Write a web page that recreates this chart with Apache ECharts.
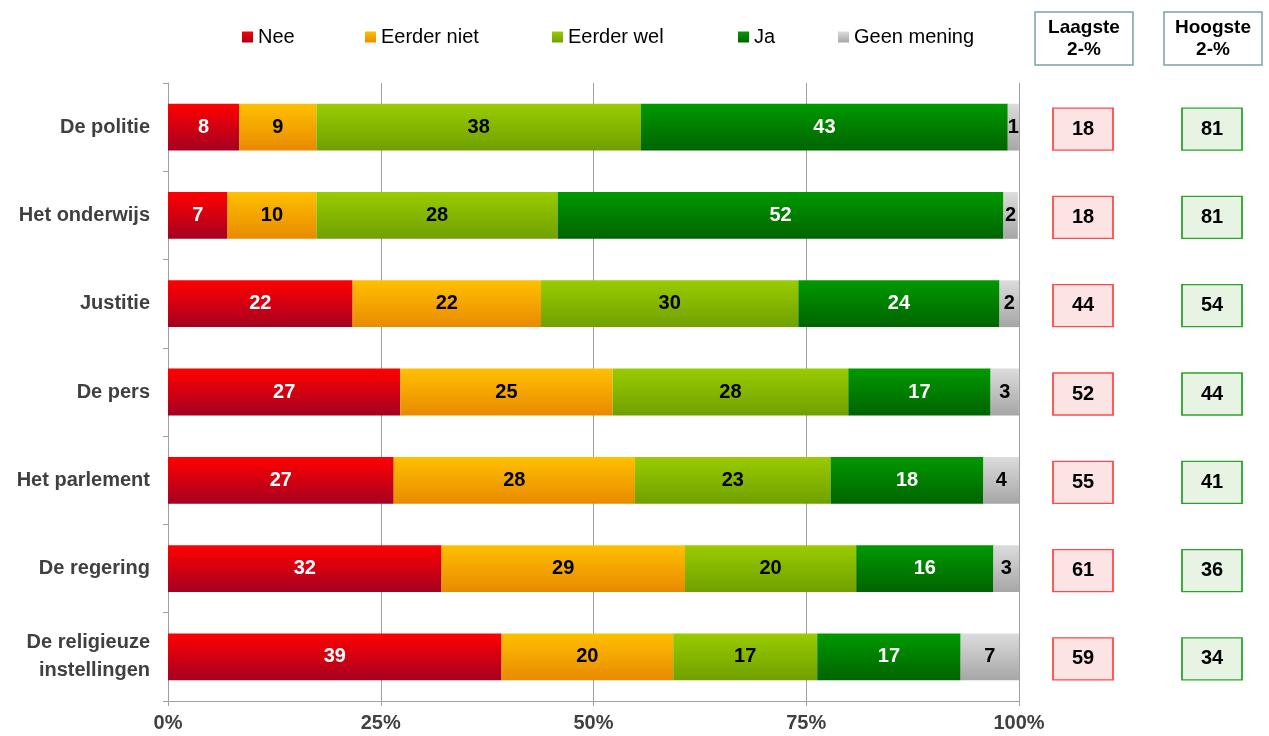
<!DOCTYPE html>
<html>
<head>
<meta charset="utf-8">
<script src="https://cdn.jsdelivr.net/npm/echarts@6/dist/echarts.min.js"></script>
<style>html,body{margin:0;padding:0;background:#fff}#c{width:1269px;height:736px}</style>
</head>
<body>
<div id="c"></div>
<script>
const categories = ['De politie', 'Het onderwijs', 'Justitie', 'De pers', 'Het parlement', 'De regering', 'De religieuze\ninstellingen'];
const seriesNames = ['Nee', 'Eerder niet', 'Eerder wel', 'Ja', 'Geen mening'];
const nee        = [8.36, 6.99, 21.69, 27.30, 26.52, 32.14, 39.19];
const eerderNiet = [9.08, 10.45, 22.14, 24.95, 28.35, 28.61, 20.18];
const eerderWel  = [38.14, 28.35, 30.24, 27.69, 22.99, 20.12, 16.92];
const ja         = [43.10, 52.38, 23.64, 16.72, 17.96, 16.13, 16.85];
const geenMening = [1.31, 1.70, 2.29, 3.33, 4.18, 3.00, 6.86];
const laagste = [18, 18, 44, 52, 55, 61, 59];
const hoogste = [81, 81, 54, 44, 41, 36, 34];
const xTicks = [0, 25, 50, 75, 100];
const boxHeaders = ['Laagste\n2-%', 'Hoogste\n2-%'];

const FONT = "'Liberation Sans', Arial, sans-serif";
function grad(top, bottom) {
  return new echarts.graphic.LinearGradient(0, 0, 0, 1, [{offset: 0, color: top}, {offset: 1, color: bottom}]);
}
const colors = [
  grad('#ff0000', '#a50021'),
  grad('#ffc000', '#e88a00'),
  grad('#99cc00', '#70a000'),
  grad('#009900', '#006400'),
  grad('#dcdcdc', '#a6a6a6')
];
const labelColors = ['#ffffff', '#000000', '#000000', '#ffffff', '#000000'];
const allData = [nee, eerderNiet, eerderWel, ja, geenMening];

const series = seriesNames.map((name, i) => ({
  name: name,
  type: 'bar',
  stack: 'total',
  xAxisIndex: 0,
  yAxisIndex: 0,
  barWidth: '53%',
  data: allData[i],
  itemStyle: {color: colors[i]},
  label: {
    show: true,
    position: 'inside',
    color: labelColors[i],
    fontFamily: FONT,
    fontWeight: 'bold',
    fontSize: 20,
    formatter: p => Math.round(p.value)
  },
  emphasis: {disabled: true}
}));

function boxSeries(name, values, xi, fill, border) {
  return {
    name: name,
    type: 'scatter',
    xAxisIndex: 1,
    yAxisIndex: 1,
    symbol: 'rect',
    symbolSize: [60, 42],
    symbolOffset: [0, 2],
    data: values.map((v, i) => [xi, i, v]),
    itemStyle: {color: fill, borderColor: border, borderWidth: 1.5, opacity: 1},
    label: {show: true, position: 'inside', formatter: p => p.value[2], color: '#000', fontFamily: FONT, fontWeight: 'bold', fontSize: 20},
    emphasis: {disabled: true}
  };
}
series.push(boxSeries('Laagste', laagste, 0, '#fde4e4', '#ff4a4a'));
series.push(boxSeries('Hoogste', hoogste, 1, '#e7f4e4', '#2aa52a'));

const legendLefts = [237, 360, 547, 733, 833];
const legends = seriesNames.map((n, i) => ({
  data: [n],
  left: legendLefts[i],
  top: 22,
  itemWidth: 11,
  itemHeight: 11,
  icon: 'rect',
  selectedMode: false,
  textStyle: {fontFamily: FONT, fontSize: 20, color: '#000'}
}));

const headerLefts = [1035, 1164];
const graphics = [];
boxHeaders.forEach((t, i) => {
  graphics.push({
    type: 'rect',
    shape: {x: headerLefts[i], y: 12, width: 98, height: 53},
    style: {fill: '#fff', stroke: '#7f9ea8', lineWidth: 1.5}
  });
  graphics.push({
    type: 'text',
    x: headerLefts[i] + 49,
    y: 38.5,
    style: {
      text: t,
      align: 'center',
      verticalAlign: 'middle',
      fontFamily: FONT,
      fontWeight: 'bold',
      fontSize: 19,
      lineHeight: 22,
      fill: '#000'
    }
  });
});

const chart = echarts.init(document.getElementById('c'));
chart.setOption({
  animation: false,
  backgroundColor: '#fff',
  legend: legends,
  graphic: graphics,
  grid: [
    {left: 168, right: 250, top: 83, bottom: 35},
    {left: 1083, width: 129, top: 83, bottom: 35}
  ],
  xAxis: [{
    type: 'value',
    gridIndex: 0,
    min: xTicks[0],
    max: xTicks[xTicks.length - 1],
    interval: 25,
    axisLine: {show: true, lineStyle: {color: '#a0a0a0', width: 1}},
    axisTick: {show: true, length: 5, lineStyle: {color: '#a0a0a0'}},
    splitLine: {show: true, lineStyle: {color: '#a0a0a0', width: 1}},
    axisLabel: {formatter: '{value}%', fontFamily: FONT, fontWeight: 'bold', fontSize: 20, color: '#404040', margin: 12}
  }, {
    type: 'value',
    gridIndex: 1,
    min: 0,
    max: 1,
    show: false
  }],
  yAxis: [{
    type: 'category',
    gridIndex: 0,
    data: categories,
    inverse: true,
    axisLine: {show: true, lineStyle: {color: '#a0a0a0', width: 1}},
    axisTick: {show: true, length: 5, lineStyle: {color: '#a0a0a0'}},
    splitLine: {show: false},
    axisLabel: {fontFamily: FONT, fontWeight: 'bold', fontSize: 20, color: '#404040', margin: 18, lineHeight: 28, align: 'right'}
  }, {
    type: 'category',
    gridIndex: 1,
    data: categories,
    inverse: true,
    show: false
  }],
  series: series
});
</script>
</body>
</html>
